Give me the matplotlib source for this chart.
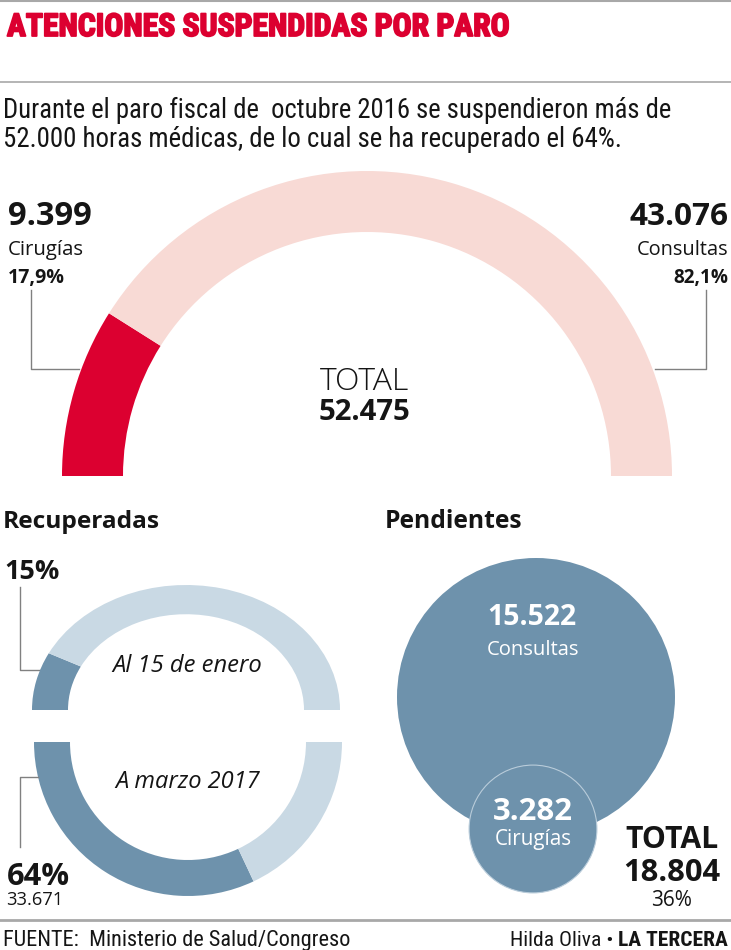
import matplotlib
matplotlib.use('Agg')
import matplotlib.pyplot as plt
from matplotlib import font_manager as fm
from matplotlib.patches import Circle
import matplotlib.patheffects as pe
import numpy as np

# ---------------- data ----------------
title = "ATENCIONES SUSPENDIDAS POR PARO"
subtitle = ["Durante el paro fiscal de  octubre 2016 se suspendieron más de",
            "52.000 horas médicas, de lo cual se ha recuperado el 64%."]
arc_labels = ["Cirugías", "Consultas"]
arc_values = [9399, 43076]
arc_pcts = ["17,9%", "82,1%"]
rec_labels = ["Al 15 de enero", "A marzo 2017"]
rec_pcts = [15, 64]
rec_count = 33671
pend_labels = ["Consultas", "Cirugías"]
pend_values = [15522, 3282]
pend_pct = "36%"
source = "FUENTE:  Ministerio de Salud/Congreso"
credit_author = "Hilda Oliva • "
credit_paper = "LA TERCERA"

def fmt(v):
    return f"{v:,}".replace(",", ".")

# ---------------- fonts ----------------
names = {f.name for f in fm.fontManager.ttflist}
def pick(*cands):
    for c in cands:
        if c in names:
            return c
    return "DejaVu Sans"
COND = pick("Roboto Condensed", "Liberation Sans Narrow", "Open Sans Condensed", "Roboto")
BASE = pick("Open Sans", "Noto Sans", "Lato", "Roboto")

RED = "#DC0030"
PINK = "#F8DAD5"
BLUE = "#6E92AC"
LBLUE = "#C9D9E4"
GRAY = "#A8A8A8"
LEAD = "#808080"
TXT = "#151515"

W, H = 731, 950
fig = plt.figure(figsize=(W / 100, H / 100), dpi=100)
ax = fig.add_axes([0, 0, 1, 1])
renderer = fig.canvas.get_renderer()

def Y(y):
    return H - y

def put(x, y, s, w=None, size=14, ha="left", family=None, **kw):
    t = ax.text(x, Y(y), s, fontsize=size, ha=ha, va="baseline",
                family=family or BASE, color=kw.pop("color", TXT), **kw)
    if w:
        bb = t.get_window_extent(renderer)
        t.set_fontsize(size * w / bb.width)
    return t

# ---------------- main semicircle ----------------
total = sum(arc_values)
ax.pie(arc_values + [total], colors=[RED, PINK, "none"], startangle=180,
       counterclock=False, radius=305, center=(367, Y(476)),
       wedgeprops=dict(width=61, linewidth=0))

# ---------------- bottom donut (A marzo 2017) ----------------
ax.pie([rec_pcts[1], 100 - rec_pcts[1], 100], colors=[BLUE, LBLUE, "none"],
       startangle=180, counterclock=True, radius=154, center=(188, Y(742)),
       wedgeprops=dict(width=36, linewidth=0))

# ---------------- Pendientes circles ----------------
k = 139 / np.sqrt(max(pend_values))
ax.add_patch(Circle((536, Y(697)), k * np.sqrt(pend_values[0]), fc=BLUE, ec="none"))
ax.add_patch(Circle((533, Y(829)), k * np.sqrt(pend_values[1]), fc=BLUE,
                    ec="#B9CCDA", lw=0.8))

ax.set_xlim(0, W)
ax.set_ylim(0, H)
ax.set_aspect("auto")
ax.axis("off")

# ---------------- top donut (Al 15 de enero), slightly squashed ----------------
ax2 = fig.add_axes([32 / W, (H - 710) / H, 308 / W, 125 / H])
ax2.pie([rec_pcts[0], 100 - rec_pcts[0], 100], colors=[BLUE, LBLUE, "none"],
        startangle=180, counterclock=False, radius=1,
        wedgeprops=dict(width=36 / 154, linewidth=0))
ax2.set_xlim(-1, 1)
ax2.set_ylim(0, 1)
ax2.set_aspect("auto")
ax2.axis("off")

# ---------------- rules ----------------
ax.plot([0, W], [Y(1), Y(1)], color=GRAY, lw=1.5)
ax.plot([0, W], [Y(82), Y(82)], color=GRAY, lw=1.2)
ax.plot([0, W], [Y(920), Y(920)], color=GRAY, lw=2)

# leader lines
ax.plot([31, 31, 79], [Y(290), Y(369), Y(369)], color=LEAD, lw=1)
ax.plot([706, 706, 655], [Y(290), Y(369), Y(369)], color=LEAD, lw=1)
ax.plot([20, 20, 40], [Y(587), Y(670), Y(670)], color=LEAD, lw=1)
ax.plot([38, 20, 20], [Y(777), Y(777), Y(847)], color=LEAD, lw=1)

# ---------------- texts ----------------
put(7, 36, title, w=503, size=24, family=COND, weight="heavy", color=RED,
    path_effects=[pe.withStroke(linewidth=1.3, foreground=RED)])
put(3, 118, subtitle[0], w=669, size=18, family=COND)
put(3, 147, subtitle[1], w=622, size=18, family=COND)

put(8, 225, fmt(arc_values[0]), w=84, size=24, weight="bold")
put(8, 255, arc_labels[0], w=76, size=15)
put(8, 283, arc_pcts[0], w=57, size=15, weight="bold")
put(728, 225, fmt(arc_values[1]), w=99, size=24, weight="bold", ha="right")
put(728, 255, arc_labels[1], w=92, size=15, ha="right")
put(728, 283, arc_pcts[1], w=55, size=15, weight="bold", ha="right")

put(364, 390, "TOTAL", w=89, size=22, weight="light", ha="center")
put(364, 420, fmt(total), w=92, size=22, weight="bold", ha="center")

put(3, 528, "Recuperadas", w=157, size=20, weight="bold")
put(385, 528, "Pendientes", w=138, size=20, weight="bold")

put(4, 579, f"{rec_pcts[0]}%", w=55, size=22, weight="bold")
put(187, 672, rec_labels[0], w=150, size=16, style="italic", ha="center")
put(188, 788, rec_labels[1], w=145, size=16, style="italic", ha="center")
put(7, 885, f"{rec_pcts[1]}%", w=63, size=22, weight="bold")
put(6, 905, fmt(rec_count), w=57, size=13)

put(532, 625, fmt(pend_values[0]), w=89, size=22, weight="bold", ha="center", color="white")
put(533, 655, pend_labels[0], w=93, size=15, ha="center", color="white")
put(533, 820, fmt(pend_values[1]), w=80, size=22, weight="bold", ha="center", color="white")
put(533, 845, pend_labels[1], w=77, size=15, ha="center", color="white")

put(672, 848, "TOTAL", w=93, size=24, weight="bold", ha="center")
put(672, 881, fmt(sum(pend_values)), w=97, size=24, weight="bold", ha="center")
put(671, 906, pend_pct, w=41, size=13, ha="center")

put(3, 946, source, w=348, size=14, family=COND)
tp = put(728, 946, credit_paper, w=110, size=14, family=COND, weight="bold", ha="right")
bb = tp.get_window_extent(renderer)
put(bb.x0, 946, credit_author, w=None, size=tp.get_fontsize(), family=COND, ha="right")

fig.savefig("out.png", dpi=100, facecolor="white")
